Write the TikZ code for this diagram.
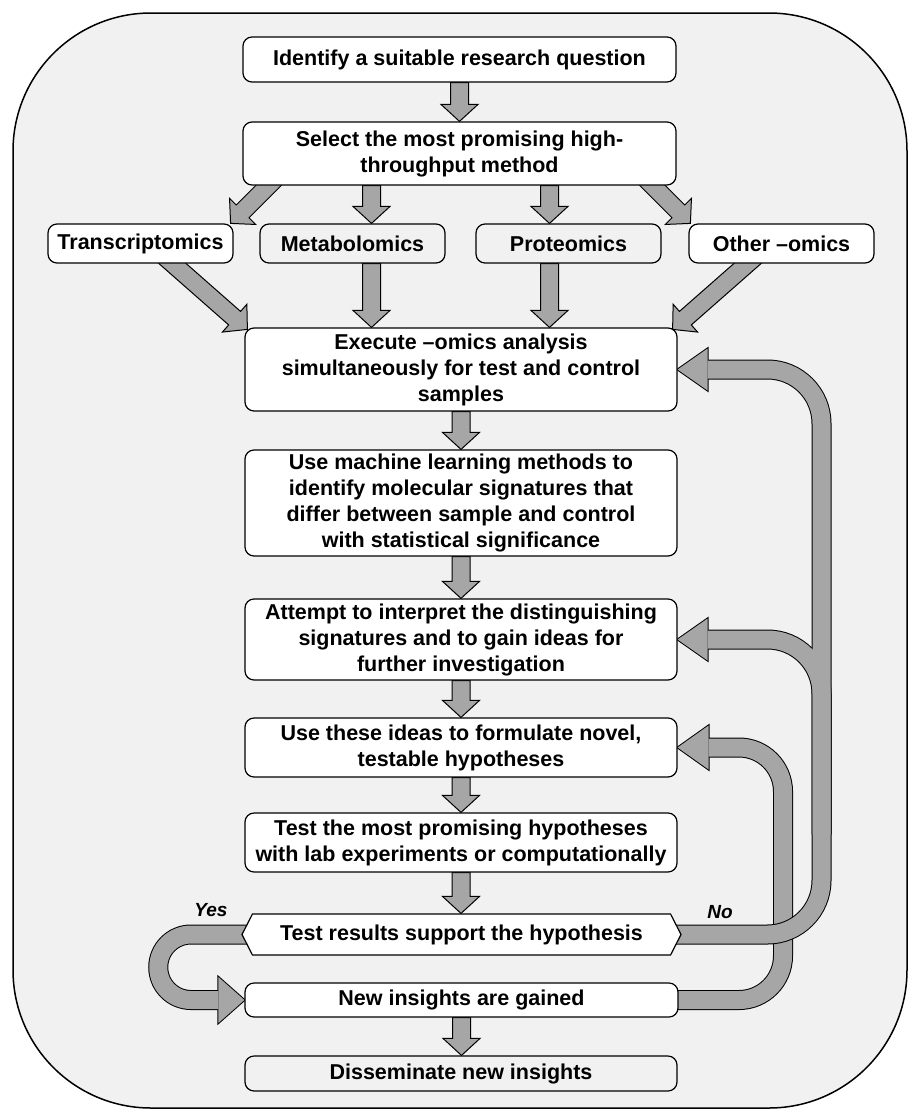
\documentclass[tikz,border=0pt]{standalone}
\usepackage{fontspec}
\setmainfont{Liberation Sans}
\usetikzlibrary{calc,shapes.symbols}
\definecolor{framegray}{RGB}{241,241,241}
\definecolor{arrowgray}{RGB}{166,166,166}
\pgfdeclarelayer{frame}
\pgfdeclarelayer{loopblack}
\pgfdeclarelayer{loopgray}
\pgfdeclarelayer{noblack}
\pgfdeclarelayer{nogray}
\pgfsetlayers{frame,loopblack,loopgray,noblack,nogray,main}
\newcommand\boxfont{\bfseries\fontsize{21.5}{26}\selectfont}
% straight block arrow, shaft from #1, tip at #2
\newcommand\blockarrow[2]{%
  \path (#1) coordinate (bs) (#2) coordinate (bt) ($(bt)!17pt!(bs)$) coordinate (bb);
  \draw[blockline] ($(bs)!9pt!90:(bt)$) -- ($(bb)!9pt!90:(bt)$)
    -- ($(bb)!18.5pt!90:(bt)$) -- (bt) -- ($(bb)!18.5pt!-90:(bt)$)
    -- ($(bb)!9pt!-90:(bt)$) -- ($(bs)!9pt!-90:(bt)$) -- cycle;}
\newcommand\loopband[4]{%
  \begin{pgfonlayer}{#1}\draw[bandblack,#3] #4;\end{pgfonlayer}
  \begin{pgfonlayer}{#2}\draw[bandgray,#3] #4;\end{pgfonlayer}}
\newcommand\loophead[5]{%
  \begin{pgfonlayer}{#1}
  \draw[line width=2pt,fill=black] (#3) -- ($(#4)!#5!90:(#3)$) -- ($(#4)!#5!-90:(#3)$) -- cycle;
  \end{pgfonlayer}
  \begin{pgfonlayer}{#2}
  \fill[arrowgray] (#3) -- ($(#4)!#5!90:(#3)$) -- ($(#4)!#5!-90:(#3)$) -- cycle;
  \end{pgfonlayer}}
\begin{document}
\begin{tikzpicture}[x=1pt,y=1pt,
  box/.style={draw,line width=1.2pt,rounded corners=9pt,fill=white,align=center,
    font=\boxfont,inner sep=0pt},
  greybox/.style={box,fill=framegray},
  answer/.style={font=\bfseries\itshape\fontsize{19}{22}\selectfont},
  blockline/.style={draw=black,fill=arrowgray,line width=1pt},
  bandblack/.style={draw=black,line width=20pt},
  bandgray/.style={draw=arrowgray,line width=18pt}]
\useasboundingbox (0,0) rectangle (908,-1109);
\begin{pgfonlayer}{frame}
\draw[line width=1.5pt,fill=framegray,rounded corners=138pt] (13,-13) rectangle (907,-1108);
\end{pgfonlayer}
\node[box,minimum width=433pt,minimum height=45pt] (ident) at (459.5,-59.5) {Identify a suitable research question};
\node[box,minimum width=433pt,minimum height=63pt] (select) at (459.5,-153.5) {Select the most promising high-\\throughput method};
\node[box,minimum width=185pt,minimum height=39pt] (trans) at (140.5,-243.5) {Transcriptomics};
\node[greybox,minimum width=185pt,minimum height=39pt] (metab) at (352.5,-243.5) {Metabolomics};
\node[greybox,minimum width=185pt,minimum height=39pt] (prot) at (568.5,-243.5) {Proteomics};
\node[box,minimum width=185pt,minimum height=39pt] (other) at (781.5,-243.5) {Other –omics};
\node[box,minimum width=432pt,minimum height=83pt] (exec) at (461,-369.5) {Execute –omics analysis\\simultaneously for test and control\\samples};
\node[box,minimum width=432pt,minimum height=106pt] (ml) at (461,-503) {Use machine learning methods to\\identify molecular signatures that\\differ between sample and control\\with statistical significance};
\node[box,minimum width=432pt,minimum height=81pt] (attempt) at (461,-639.5) {Attempt to interpret the distinguishing\\signatures and to gain ideas for\\further investigation};
\node[box,minimum width=432pt,minimum height=59pt] (ideas) at (461,-747.5) {Use these ideas to formulate novel,\\testable hypotheses};
\node[box,minimum width=432pt,minimum height=59pt] (testexp) at (461,-842.5) {Test the most promising hypotheses\\with lab experiments or computationally};
\node[box,sharp corners,shape=signal,signal to=west and east,signal pointer angle=126,
  minimum width=439pt,minimum height=41pt] (hex) at (461.5,-934.5) {Test results support the hypothesis};
\node[box,minimum width=433pt,minimum height=34pt] (newins) at (461.5,-1000) {New insights are gained};
\node[greybox,minimum width=432pt,minimum height=35pt] (dissem) at (461,-1073.5) {Disseminate new insights};
\node[answer] (yes) at (211,-910) {Yes};
\node[answer] (no) at (720,-912) {No};
\coordinate (nox) at (821.5,0);
\coordinate (idx) at (783,0);
\coordinate (yx) at (191,0);
\coordinate (execbase) at ($(exec.east)+(30,0)$);
\coordinate (attbase) at ($(attempt.east)+(30,0)$);
\coordinate (ideabase) at ($(ideas.east)+(31,0)$);
\coordinate (yesbase) at ($(newins.west)+(-26,0)$);
\begin{pgfonlayer}{nogray}
\blockarrow{ident.south}{select.north}
\blockarrow{$(trans.north east)+(44,47)$}{$(trans.north east)+(-3,0)$}
\blockarrow{$(select.south -| metab.north)+(19,0)$}{$(metab.north)+(19,0)$}
\blockarrow{$(select.south -| prot.north)+(-19,0)$}{$(prot.north)+(-19,0)$}
\blockarrow{$(other.north west)+(-45,47)$}{$(other.north west)+(2,0)$}
\blockarrow{$(trans.south)+(23,8)$}{$(exec.north west)+(3,-2)$}
\blockarrow{$(metab.south)+(19,0)$}{$(exec.north -| metab.south)+(19,0)$}
\blockarrow{$(prot.south)+(-19,0)$}{$(exec.north -| prot.south)+(-19,0)$}
\blockarrow{$(other.south)+(-25,8)$}{$(exec.north east)+(-5,-2)$}
\blockarrow{exec.south}{ml.north}
\blockarrow{ml.south}{attempt.north}
\blockarrow{attempt.south}{ideas.north}
\blockarrow{ideas.south}{testexp.north}
\blockarrow{testexp.south}{testexp.south |- hex.north}
\blockarrow{newins.south}{newins.south |- dissem.north}
\end{pgfonlayer}
\loopband{loopblack}{loopgray}{sharp corners}{(hex.center) -- (hex.center -| yx) arc[start angle=90,end angle=270,radius=32.75pt] -- (yesbase)}
\loophead{loopblack}{loopgray}{newins.west}{yesbase}{23pt}
\loopband{loopblack}{loopgray}{rounded corners=44pt}{(newins.center) -- (newins.center -| idx) -- (ideas.east -| idx) -- (ideabase)}
\loophead{loopblack}{loopgray}{ideas.east}{ideabase}{22pt}
\loopband{noblack}{nogray}{rounded corners=54pt}{(hex.center) -- (hex.center -| nox) -- (exec.east -| nox) -- (execbase)}
\loopband{noblack}{nogray}{rounded corners=54pt}{($(hex.center -| nox)+(0,100)$) -- (attempt.east -| nox) -- (attbase)}
\loophead{noblack}{nogray}{exec.east}{execbase}{21pt}
\loophead{noblack}{nogray}{attempt.east}{attbase}{21pt}
\end{tikzpicture}
\end{document}
